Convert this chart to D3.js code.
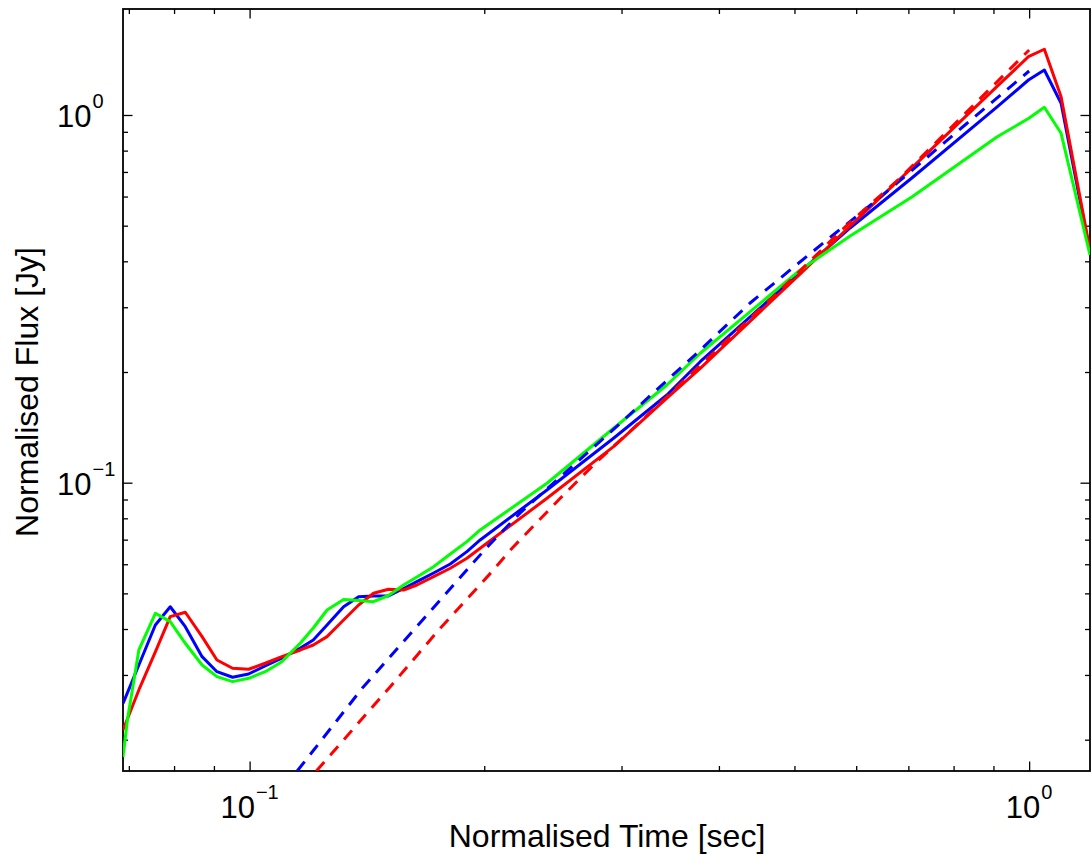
<!DOCTYPE html>
<html>
<head>
	<meta charset="utf-8">
	<title>Normalised flux against normalised time</title>
	<script src="https://cdn.jsdelivr.net/npm/d3@7"></script>
	<style>
		body { margin: 0; background: #ffffff; }
		svg text { font-family: Arial, 'Liberation Sans', Helvetica, sans-serif; fill: #000000; }
	</style>
</head>
<body>
	<div id="chart"></div>
	<script>
		// sample times shared by the three simulated light curves
		const time = [0.0688, 0.0697, 0.0721, 0.0757, 0.0791, 0.0827, 0.0869, 0.0908, 0.0951, 0.0997,
			0.1047, 0.1100, 0.1162, 0.1207, 0.1257, 0.1320, 0.1380, 0.1442, 0.1507, 0.1576,
			0.1639, 0.1722, 0.1809, 0.1900, 0.1976, 0.2407, 0.2930, 0.3430, 0.3785, 0.5086,
			0.5893, 0.7072, 0.9090, 0.998, 1.046, 1.099, 1.197];

		const fluxBlue = [0.02512, 0.02680, 0.03193, 0.04102, 0.04599, 0.04058, 0.03364, 0.03062, 0.02957, 0.03018,
			0.03173, 0.03331, 0.03552, 0.03734, 0.04102, 0.04599, 0.04897, 0.04919, 0.04919, 0.05155,
			0.05380, 0.05681, 0.06010, 0.06494, 0.06987, 0.09553, 0.1321, 0.1732, 0.2133, 0.3742,
			0.4929, 0.6740, 1.0507, 1.2450, 1.3254, 1.0760, 0.4240];

		const fluxRed = [0.02125, 0.02277, 0.02731, 0.03465, 0.04321, 0.04442, 0.03813, 0.03295, 0.03128, 0.03109,
			0.03228, 0.03364, 0.03508, 0.03619, 0.03813, 0.04233, 0.04649, 0.05003, 0.05129, 0.05107,
			0.05270, 0.05552, 0.05851, 0.06229, 0.06634, 0.09070, 0.1253, 0.1697, 0.2047, 0.3695,
			0.4991, 0.7178, 1.1948, 1.4404, 1.5093, 1.1214, 0.4294];

		const fluxGreen = [0.01795, 0.02263, 0.03508, 0.04414, 0.04188, 0.03658, 0.03193, 0.02968, 0.02877, 0.02938,
			0.03062, 0.03260, 0.03665, 0.04025, 0.04506, 0.04812, 0.04782, 0.04747, 0.04934, 0.05270,
			0.05541, 0.05910, 0.06399, 0.06913, 0.07436, 0.09963, 0.1406, 0.1844, 0.2249, 0.3789,
			0.4688, 0.5984, 0.8711, 0.9783, 1.0494, 0.8916, 0.4162];

		// dashed fits
		const fitBlueTime = [0.1151, 0.1399, 0.1680, 0.2018, 0.2224, 0.2632, 0.2944, 0.3294, 0.3751, 0.4386,
			0.4938, 0.5605, 0.6308, 0.6772, 0.8303, 1.0];
		const fitBlueFlux = [0.01644, 0.02783, 0.04313, 0.06688, 0.08275, 0.1139, 0.1409, 0.1754, 0.2253, 0.3081,
			0.3789, 0.4717, 0.5764, 0.6534, 0.9452, 1.3171];

		const fitRedTime = [0.1218, 0.1515, 0.1756, 0.2046, 0.2171, 0.2503, 0.2790, 0.3140, 0.3933, 0.4752,
			0.5841, 0.6832, 1.0];
		const fitRedFlux = [0.01644, 0.02788, 0.04018, 0.05729, 0.06634, 0.09070, 0.1141, 0.1436, 0.2253, 0.3281,
			0.5022, 0.6740, 1.5024];

		const xLimits = [0.0688, 1.197];
		const yLimits = [0.01644, 1.942];
		const majorTicks = [0.1, 1];
		const majorExponents = ['\u22121', '0'];

		const margin = { top: 9, right: 2, bottom: 90, left: 123 },
			width = 1092 - margin.left - margin.right,
			height = 861 - margin.top - margin.bottom;

		const xScale = d3.scaleLog().domain(xLimits).range([0, width]);
		const yScale = d3.scaleLog().domain(yLimits).range([height, 0]);

		const svg = d3.select('#chart').append('svg')
			.attr('width', width + margin.left + margin.right)
			.attr('height', height + margin.top + margin.bottom);

		const wrapper = svg.append('g')
			.attr('transform', 'translate(' + margin.left + ',' + margin.top + ')');

		wrapper.append('clipPath').attr('id', 'plot-clip')
			.append('rect').attr('width', width).attr('height', height);

		// minor ticks: 2..9 times each decade inside the limits
		function minorTicks(lims) {
			const out = [];
			for (let e = -3; e <= 1; e++) {
				for (let m = 2; m <= 9; m++) {
					const v = m * Math.pow(10, e);
					if (v > lims[0] && v < lims[1]) out.push(v);
				}
			}
			return out;
		}

		function addAxis(axisFn, scale, transform, values, size) {
			wrapper.append('g')
				.attr('transform', transform)
				.call(axisFn(scale).tickValues(values).tickSize(size).tickSizeOuter(0).tickFormat(''))
				.call(g => g.select('.domain').remove())
				.selectAll('line').attr('stroke', '#000').attr('stroke-width', 1.3);
		}

		const xMinor = minorTicks(xLimits), yMinor = minorTicks(yLimits);
		[[majorTicks, -9.5], [xMinor, -5]].forEach(([vals, s]) => {
			addAxis(d3.axisBottom, xScale, 'translate(0,' + height + ')', vals, s);
			addAxis(d3.axisTop, xScale, 'translate(0,0)', vals, s);
		});
		[[majorTicks, -9.5], [yMinor, -5]].forEach(([vals, s]) => {
			addAxis(d3.axisLeft, yScale, 'translate(0,0)', vals, s);
			addAxis(d3.axisRight, yScale, 'translate(' + width + ',0)', vals, s);
		});

		// box
		wrapper.append('rect')
			.attr('width', width).attr('height', height)
			.attr('fill', 'none').attr('stroke', '#000').attr('stroke-width', 1.8);

		// lines
		const plot = wrapper.append('g').attr('clip-path', 'url(#plot-clip)');
		const line = d3.line()
			.x(d => xScale(d[0]))
			.y(d => yScale(d[1]));

		const series = [
			{ t: time, f: fluxBlue, color: '#0000ff', dash: null },
			{ t: time, f: fluxRed, color: '#ff0000', dash: null },
			{ t: time, f: fluxGreen, color: '#00ff00', dash: null },
			{ t: fitBlueTime, f: fitBlueFlux, color: '#0000ff', dash: '12,9' },
			{ t: fitRedTime, f: fitRedFlux, color: '#ff0000', dash: '12,9' }
		];

		plot.selectAll('path')
			.data(series)
			.enter().append('path')
			.attr('d', s => line(s.t.map((t, i) => [t, s.f[i]])))
			.attr('fill', 'none')
			.attr('stroke', s => s.color)
			.attr('stroke-width', 3)
			.attr('stroke-linejoin', 'round')
			.attr('stroke-dasharray', s => s.dash);

		// tick labels with superscript exponents
		majorTicks.forEach((v, i) => {
			const xl = wrapper.append('text')
				.attr('x', xScale(v))
				.attr('y', height + 47)
				.attr('text-anchor', 'middle')
				.style('font-size', '31px');
			xl.append('tspan').text('10');
			xl.append('tspan').attr('dy', -19).attr('dx', 1).style('font-size', '20px').text(majorExponents[i]);

			const yl = wrapper.append('text')
				.attr('x', 57 - margin.left)
				.attr('y', yScale(v) + 12)
				.attr('text-anchor', 'start')
				.style('font-size', '31px');
			yl.append('tspan').text('10');
			yl.append('tspan').attr('dy', -19).attr('dx', 1).style('font-size', '20px').text(majorExponents[i]);
		});

		// axis titles
		wrapper.append('text')
			.attr('x', 607 - margin.left)
			.attr('y', 847 - margin.top)
			.attr('text-anchor', 'middle')
			.style('font-size', '32px')
			.text('Normalised Time [sec]');

		wrapper.append('text')
			.attr('transform', 'translate(' + (38 - margin.left) + ',' + (392 - margin.top) + ') rotate(-90)')
			.attr('text-anchor', 'middle')
			.style('font-size', '32px')
			.text('Normalised Flux [Jy]');
	</script>
</body>
</html>
